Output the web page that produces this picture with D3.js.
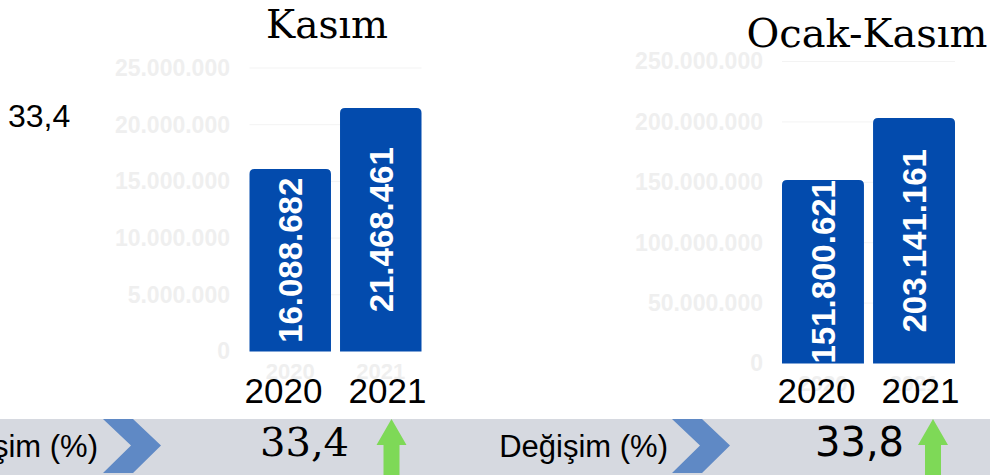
<!DOCTYPE html>
<html lang="tr">
<head>
<meta charset="utf-8">
<script src="https://cdn.jsdelivr.net/npm/d3@7"></script>
<style>
  html, body { margin: 0; padding: 0; background: #fff; }
  svg { display: block; }
</style>
</head>
<body>
<div id="chart"></div>
<script>
(function () {
    'use strict';

    // veriler
    const years = ['2020', '2021'];
    const kasimValues = [16088682, 21468461];
    const ocakKasimValues = [151800621, 203141161];
    const kasimTicks = [0, 5000000, 10000000, 15000000, 20000000, 25000000];
    const ocakKasimTicks = [0, 50000000, 100000000, 150000000, 200000000, 250000000];
    const titles = ['Kasım', 'Ocak-Kasım'];
    const changes = ['33,4', '33,8'];
    const changeLabel = 'Değişim (%)';

    const W = 990, H = 475;
    const barColor = '#034bad';
    const tickColor = '#efefef';

    const trLocale = d3.formatLocale({ decimal: ',', thousands: '.', grouping: [3], currency: ['', ' TL'] });
    const fmt = trLocale.format(',d');

    const svg = d3.select('#chart').append('svg')
        .attr('width', W).attr('height', H);

    const defs = svg.append('defs');

    const panels = [
        { key: 'kasim', values: kasimValues, ticks: kasimTicks, x: [249.5, 421.5], y: [351.5, 68], labelX: 230,
          title: titles[0], titleX: 327, titleY: 38, titleSize: 39 },
        { key: 'ocak', values: ocakKasimValues, ticks: ocakKasimTicks, x: [782, 955], y: [363.5, 61.5], labelX: 763,
          title: titles[1], titleX: 867, titleY: 47, titleSize: 40 }
    ];

    // alt bant
    svg.append('rect').attr('x', 0).attr('y', 419).attr('width', W).attr('height', H - 419)
        .attr('fill', '#d6d9e0');

    function topRounded(x, y, w, h, r) {
        return 'M' + x + ',' + (y + h) +
            'V' + (y + r) +
            'Q' + x + ',' + y + ' ' + (x + r) + ',' + y +
            'H' + (x + w - r) +
            'Q' + (x + w) + ',' + y + ' ' + (x + w) + ',' + (y + r) +
            'V' + (y + h) + 'Z';
    }

    panels.forEach(function (p) {
        const data = years.map(function (yr, i) { return { year: yr, value: p.values[i] }; });

        const xScale = d3.scaleBand().domain(years).range(p.x).paddingInner(0.1).paddingOuter(0);
        const yScale = d3.scaleLinear().domain([0, d3.max(p.ticks)]).range(p.y);

        const g = svg.append('g').attr('class', 'panel-' + p.key);

        // ızgara çizgileri
        g.selectAll('.grid').data(p.ticks.slice(1)).enter().append('line')
            .attr('x1', p.x[0]).attr('x2', p.x[1])
            .attr('y1', function (d) { return yScale(d); })
            .attr('y2', function (d) { return yScale(d); })
            .attr('stroke', '#f3f3f3').attr('stroke-width', 1);

        const yAxis = d3.axisLeft(yScale).tickValues(p.ticks).tickFormat(fmt).tickSize(0).tickPadding(0);
        const yg = g.append('g').attr('transform', 'translate(' + p.labelX + ',0)').call(yAxis);
        yg.select('.domain').remove();
        yg.selectAll('text')
            .attr('fill', tickColor)
            .style('font-family', '"Liberation Sans", Arial, sans-serif')
            .style('font-size', '23px').style('font-weight', 'bold');

        const xAxis = d3.axisBottom(xScale).tickSize(0).tickPadding(0);
        const xg = g.append('g').attr('transform', 'translate(0,' + (yScale(0) + 8) + ')').call(xAxis);
        xg.select('.domain').remove();
        xg.selectAll('text')
            .attr('fill', tickColor).attr('dy', '0.9em')
            .style('font-family', '"Liberation Sans", Arial, sans-serif')
            .style('font-size', '22px').style('font-weight', 'bold');

        const bw = xScale.bandwidth();

        defs.selectAll('.clip-' + p.key).data(data).enter().append('clipPath')
            .attr('class', 'clip-' + p.key)
            .attr('id', function (d) { return 'clip-' + p.key + d.year; })
            .append('rect')
            .attr('x', function (d) { return xScale(d.year); })
            .attr('y', function (d) { return yScale(d.value); })
            .attr('width', bw)
            .attr('height', function (d) { return yScale(0) - yScale(d.value); });

        g.selectAll('.bar').data(data).enter().append('path')
            .attr('class', 'bar')
            .attr('d', function (d) {
                return topRounded(xScale(d.year), yScale(d.value), bw, yScale(0) - yScale(d.value), 5);
            })
            .attr('fill', barColor);

        // etiket, çubuğun içine kırpılır
        g.selectAll('.bar-label').data(data).enter().append('g')
            .attr('class', 'bar-label')
            .attr('clip-path', function (d) { return 'url(#clip-' + p.key + d.year + ')'; })
            .append('text')
            .attr('transform', function (d) {
                const cx = xScale(d.year) + bw / 2;
                const cy = (yScale(d.value) + yScale(0)) / 2;
                return 'translate(' + cx + ',' + cy + ') rotate(-90)';
            })
            .attr('text-anchor', 'middle').attr('dy', '0.36em')
            .attr('fill', '#fff')
            .style('font-family', '"Liberation Sans", Arial, sans-serif')
            .style('font-size', '33px').style('font-weight', 'bold')
            .text(function (d) { return fmt(d.value); });

        // büyük yıl etiketleri
        const mid = (xScale(years[0]) + xScale(years[1]) + bw) / 2;
        g.selectAll('.year-label').data(years).enter().append('text')
            .attr('class', 'year-label')
            .attr('x', function (d, i) { return mid + (i === 0 ? -52 : 52); })
            .attr('y', 403)
            .attr('text-anchor', 'middle').attr('fill', '#000')
            .style('font-family', '"Liberation Sans", Arial, sans-serif')
            .style('font-size', '35px')
            .text(function (d) { return d; });

        g.append('text')
            .attr('x', p.titleX).attr('y', p.titleY)
            .attr('text-anchor', 'middle').attr('fill', '#000')
            .style('font-family', '"DejaVu Serif", serif')
            .style('font-size', p.titleSize + 'px')
            .text(p.title);
    });

    svg.append('text').attr('x', 8).attr('y', 127)
        .style('font-family', '"Liberation Sans", Arial, sans-serif').style('font-size', '32px')
        .text(changes[0]);

    // değişim bandı
    const bands = [
        { label: changeLabel, labelX: 98, chevronX: 103, value: changes[0], valueX: 260, valueFont: '"DejaVu Serif", serif', arrowX: 391.5 },
        { label: changeLabel, labelX: 668, chevronX: 672, value: changes[1], valueX: 815, valueFont: '"DejaVu Sans", sans-serif', arrowX: 933 }
    ];

    bands.forEach(function (b) {
        svg.append('text').attr('x', b.labelX).attr('y', 457)
            .attr('text-anchor', 'end')
            .style('font-family', '"Liberation Sans", Arial, sans-serif').style('font-size', '31px')
            .text(b.label);

        const cx = b.chevronX;
        svg.append('path')
            .attr('d', 'M' + cx + ',419 L' + (cx + 30) + ',419 L' + (cx + 58) + ',445.5 L' + (cx + 30) + ',473 L' + cx + ',473 L' + (cx + 28) + ',445.5 Z')
            .attr('fill', '#5f89c5');

        svg.append('text').attr('x', b.valueX).attr('y', 456)
            .style('font-family', b.valueFont).style('font-size', '40px')
            .text(b.value);

        const ax = b.arrowX;
        svg.append('path')
            .attr('d', 'M' + ax + ',419 L' + (ax + 15) + ',445 L' + (ax + 8) + ',445 L' + (ax + 8) + ',' + H +
                ' L' + (ax - 8) + ',' + H + ' L' + (ax - 8) + ',445 L' + (ax - 15) + ',445 Z')
            .attr('fill', '#7ed957');
    });
}());
</script>
</body>
</html>
